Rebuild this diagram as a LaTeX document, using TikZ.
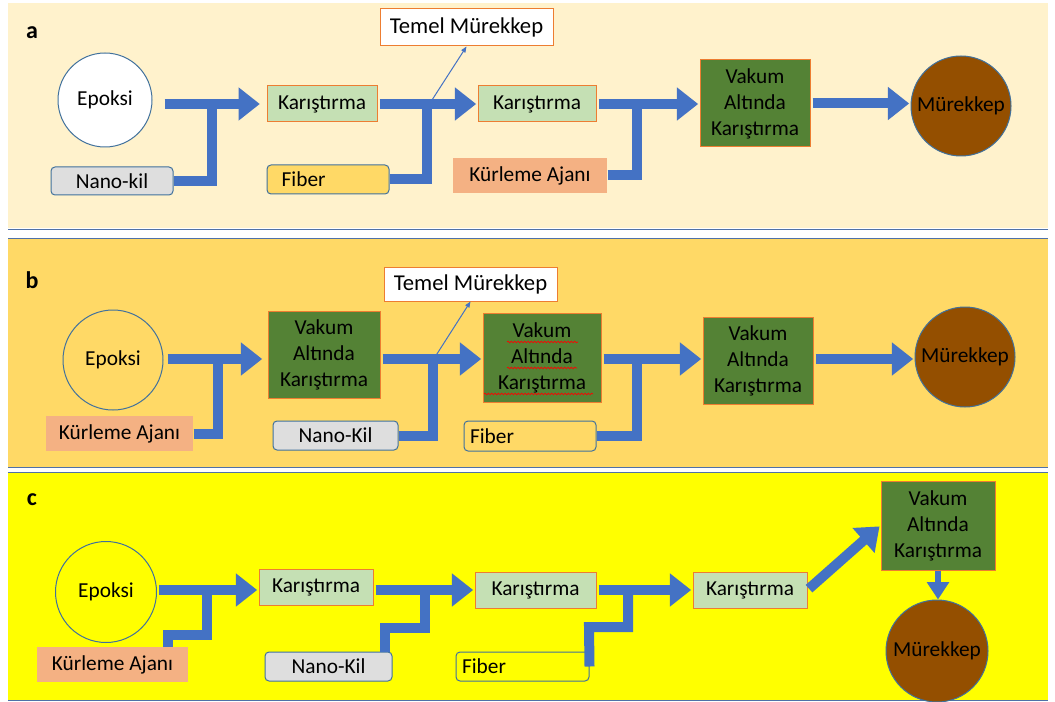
\documentclass[tikz,border=0pt]{standalone}
\usepackage{fontspec}
\setmainfont{Carlito}
\usetikzlibrary{arrows.meta,decorations.pathmorphing}
\definecolor{panela}{HTML}{FFF2CC}
\definecolor{panelb}{HTML}{FFD966}
\definecolor{panelc}{HTML}{FFFF00}
\definecolor{panelline}{HTML}{4F71A8}
\definecolor{flowblue}{HTML}{4472C4}
\definecolor{edgeorange}{HTML}{ED7D31}
\definecolor{edgeblue}{HTML}{41719C}
\definecolor{mixgreen}{HTML}{C5E0B4}
\definecolor{vacgreen}{HTML}{548235}
\definecolor{inkbrown}{HTML}{944F00}
\definecolor{curesalmon}{HTML}{F4B183}
\definecolor{claygrey}{HTML}{DEDEDE}
\tikzset{
  base/.style={font=\fontsize{16}{19.5}\selectfont, align=center, inner sep=0pt, line width=0.75pt},
  mixbox/.style={base, draw=edgeorange, fill=mixgreen, minimum height=27pt},
  vacbox/.style={base, draw=edgeorange, fill=vacgreen},
  inbox/.style={base, draw=edgeblue, rounded corners=3pt},
  fiberbox/.style={inbox, align=left},
  curebox/.style={base, fill=curesalmon},
  inkbox/.style={base, draw=edgeorange, fill=white, font=\fontsize{17}{19.5}\selectfont},
  pot/.style={base, circle, draw=edgeblue},
  flow/.style={line width=7.5pt, flowblue, -{Triangle[length=16pt,width=24pt]}, shorten <=1.5pt, shorten >=1pt},
  feed/.style={line width=7.5pt, flowblue},
  tap/.style={line width=0.75pt, flowblue, -{Triangle[length=4.5pt,width=3.5pt]}},
  tag/.style={font=\fontsize{18}{20}\selectfont\bfseries},
  spell/.style={red, line width=0.5pt, decorate, decoration={snake, amplitude=0.6pt, segment length=2.5pt}}
}
\begin{document}
\begin{tikzpicture}[x=0.75pt,y=-0.75pt]
\useasboundingbox (0,0) rectangle (1055,702);
% panels
\fill[panela] (8,3) rectangle (1048,228);
\draw[panelline] (8,229) -- (1048,229);
\fill[panelb] (8,238) rectangle (1048,467);
\draw[panelline] (8,238) -- (1048,238) (8,467) -- (1048,467);
\fill[panelc] (8,472) rectangle (1048,700);
\draw[panelline] (8,472) -- (1048,472) (8,700) -- (1048,700);

% panel a
\node[tag] (la) at (32,33) {a};
\node[pot, fill=white, minimum size=70.5pt] (Ea) at (105,100) {Epoksi};
\node[inbox, fill=claygrey, minimum width=91.5pt, minimum height=21pt] (Na) at (112,181) {Nano-kil};
\node[mixbox, minimum width=82.5pt] (K1a) at (322,104) {Karıştırma};
\node[fiberbox, fill=panelb, text width=69.5pt, inner xsep=11pt, minimum height=21.75pt] (Fa) at (328,179.5) {Fiber};
\node[inkbox, minimum width=129.75pt, minimum height=27.75pt] (Ta) at (466.5,27.5) {Temel Mürekkep};
\node[mixbox, minimum width=88.5pt] (K2a) at (537,104) {Karıştırma};
\node[curebox, minimum width=115.5pt, minimum height=26.25pt] (Ca) at (530,175.5) {Kürleme Ajanı};
\node[vacbox, minimum width=82.5pt, minimum height=65.25pt] (Va) at (755,103.5) {Vakum\\Altında\\Karıştırma};
\node[pot, fill=inkbrown, minimum size=75pt] (Ma) at (961,106) {Mürekkep};
\coordinate (ra) at (0,104);
\coordinate (ja1) at (212,104);
\coordinate (ja2) at (427,104);
\coordinate (ja3) at (637,104);
\coordinate (ta) at (432,100);
\draw[feed] (Na.east) -| (ja1);
\draw[feed] (Fa.east) -| (ja2);
\draw[feed] (Ca.east) -| (ja3);
\draw[flow, shorten <=9pt, shorten >=5pt] (Ea.east |- ra) -- (K1a.west);
\draw[flow] (K1a.east) -- (K2a.west);
\draw[flow] (K2a.east) -- (Va.west |- ra);
\draw[flow] (Va.east) -- (Va.east -| Ma.west);
\draw[tap] (ta) -- (Ta.south);

% panel b
\node[tag] (lb) at (32,280) {b};
\node[pot, minimum size=75pt] (Eb) at (113,360) {Epoksi};
\node[curebox, minimum width=110.25pt, minimum height=26.25pt] (Cb) at (119.5,433.5) {Kürleme Ajanı};
\node[vacbox, minimum width=84pt, minimum height=65.25pt] (V1b) at (324,354.5) {Vakum\\Altında\\Karıştırma};
\node[inbox, fill=claygrey, minimum width=93.75pt, minimum height=21.75pt] (Nb) at (335.5,435.5) {Nano-Kil};
\node[inkbox, minimum width=129.75pt, minimum height=25.5pt] (Tb) at (470.5,284) {Temel Mürekkep};
\node[vacbox, minimum width=88.5pt, minimum height=66.75pt] (V2b) at (542,357.5) {Vakum\\Altında\\Karıştırma};
\node[fiberbox, fill=panelb, text width=90pt, inner xsep=4.5pt, minimum height=22.5pt] (Fb) at (530,436) {Fiber};
\node[vacbox, minimum width=82.5pt, minimum height=65.25pt] (V3b) at (758,360.5) {Vakum\\Altında\\Karıştırma};
\node[pot, fill=inkbrown, minimum size=75pt] (Mb) at (965,357) {Mürekkep};
\draw[spell] (507,342) -- (578,342);
\draw[spell] (507,368) -- (577,368);
\draw[spell] (484,394) -- (593,394);
\coordinate (rb) at (0,359);
\coordinate (jb1) at (218,359);
\coordinate (jb2) at (433,359);
\coordinate (jb3) at (637,359);
\coordinate (tb) at (435,357);
\draw[feed] (Cb.east) -| (jb1);
\draw[feed] (Nb.east) -| (jb2);
\draw[feed] (Fb.east) -| (jb3);
\draw[flow, shorten <=3pt, shorten >=4pt] (Eb.east |- rb) -- (V1b.west |- rb);
\draw[flow] (V1b.east |- rb) -- (V2b.west |- rb);
\draw[flow] (V2b.east |- rb) -- (V3b.west |- rb);
\draw[flow] (V3b.east |- rb) -- (Mb.west |- rb);
\draw[tap] (tb) -- (Tb.south);

% panel c
\node[tag] (lc) at (32,500) {c};
\node[pot, minimum size=75.75pt] (Ec) at (106,592) {Epoksi};
\node[curebox, minimum width=113.25pt, minimum height=26.25pt] (Cc) at (112.5,664.5) {Kürleme Ajanı};
\node[mixbox, minimum width=85.5pt] (K1c) at (316,587) {Karıştırma};
\node[inbox, fill=claygrey, minimum width=95.25pt, minimum height=21.75pt] (Nc) at (328.5,666.5) {Nano-Kil};
\node[mixbox, minimum width=90.75pt] (K2c) at (535.5,590) {Karıştırma};
\node[fiberbox, fill=panelc, text width=90.75pt, inner xsep=4.5pt, minimum height=21.75pt] (Fc) at (522.5,666.5) {Fiber};
\node[mixbox, minimum width=85.5pt] (K3c) at (750,590) {Karıştırma};
\node[vacbox, minimum width=85.5pt, minimum height=66.75pt] (Vc) at (938,525.5) {Vakum\\Altında\\Karıştırma};
\node[pot, fill=inkbrown, minimum size=76.5pt] (Mc) at (937,651) {Mürekkep};
\coordinate (rc) at (0,590);
\coordinate (bc1) at (168,635);
\coordinate (jc1) at (207,590);
\coordinate (bc2) at (385,628);
\coordinate (jc2) at (425,590);
\coordinate (bc3) at (589,627);
\coordinate (jc3) at (628,590);
\draw[feed] (Cc.north -| bc1) -- (bc1) -| (jc1);
\draw[feed] (Nc.north -| bc2) -- (bc2) -| (jc2);
\draw[feed] (Fc.east) -- (bc3) -| (jc3);
\draw[flow] (Ec.east |- rc) -- (K1c.west |- rc);
\draw[flow] (K1c.east |- rc) -- (K2c.west);
\draw[flow] (K2c.east) -- (K3c.west);
\draw[flow] (K3c.east) -- (Vc.west);
\draw[flow, line width=5pt, -{Triangle[length=13pt,width=16pt]}, shorten <=0pt, shorten >=0pt] (Vc.south) -- (Vc.south |- Mc.north);
\end{tikzpicture}
\end{document}
